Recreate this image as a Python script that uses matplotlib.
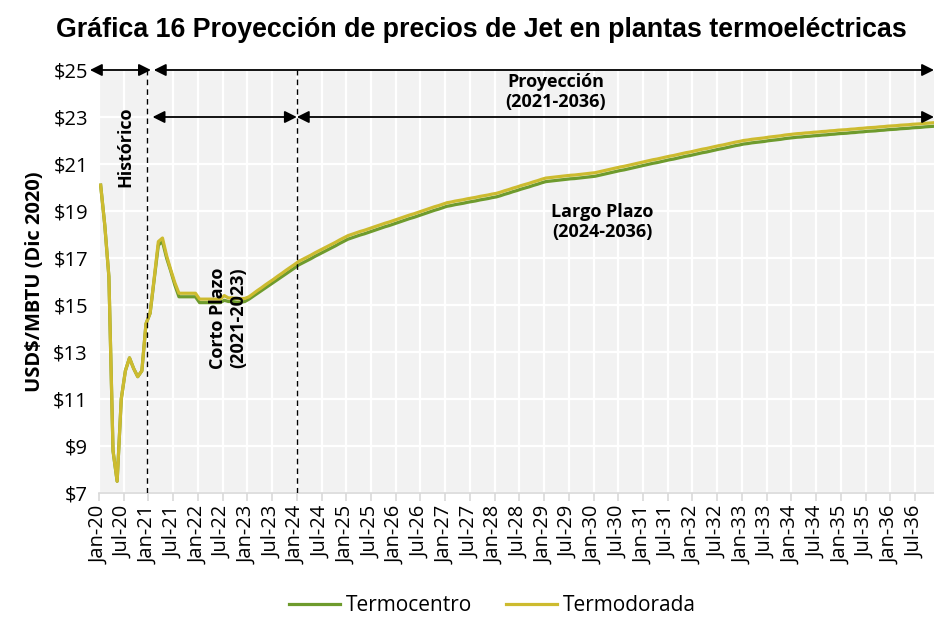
import matplotlib
matplotlib.use("Agg")
import matplotlib.pyplot as plt
import numpy as np

# ---------------- data (monthly, Jan-20 .. Dec-36) ----------------
termocentro = [
    # 2020
    20.10, 18.40, 16.20, 8.80, 7.50, 11.00, 12.20, 12.75, 12.30, 11.95, 12.20, 14.20,
    # 2021
    14.65, 16.10, 17.55, 17.70, 17.00, 16.45, 15.85, 15.35, 15.35, 15.35, 15.35, 15.35,
    # 2022
    15.10, 15.10, 15.10, 15.10, 15.10, 15.10, 15.20, 15.15, 15.15, 15.12, 15.12, 15.15,
    # 2023
    15.25, 15.37, 15.49, 15.61, 15.73, 15.85, 15.97, 16.09, 16.21, 16.33, 16.45, 16.57,
    # 2024
    16.70, 16.79, 16.88, 16.97, 17.07, 17.16, 17.25, 17.34, 17.43, 17.52, 17.62, 17.71,
    # 2025
    17.80, 17.86, 17.92, 17.98, 18.03, 18.09, 18.15, 18.21, 18.27, 18.33, 18.38, 18.44,
    # 2026
    18.50, 18.56, 18.62, 18.68, 18.73, 18.79, 18.85, 18.91, 18.97, 19.03, 19.08, 19.14,
    # 2027
    19.20, 19.23, 19.27, 19.30, 19.33, 19.37, 19.40, 19.43, 19.47, 19.50, 19.53, 19.57,
    # 2028
    19.60, 19.65, 19.71, 19.76, 19.82, 19.87, 19.93, 19.98, 20.03, 20.09, 20.14, 20.20,
    # 2029
    20.25, 20.27, 20.29, 20.31, 20.33, 20.35, 20.37, 20.38, 20.40, 20.42, 20.44, 20.46,
    # 2030
    20.48, 20.52, 20.56, 20.60, 20.64, 20.68, 20.72, 20.75, 20.79, 20.83, 20.87, 20.91,
    # 2031
    20.95, 20.99, 21.03, 21.06, 21.10, 21.14, 21.18, 21.21, 21.25, 21.29, 21.33, 21.36,
    # 2032
    21.40, 21.44, 21.48, 21.51, 21.55, 21.59, 21.63, 21.66, 21.70, 21.74, 21.78, 21.81,
    # 2033
    21.85, 21.87, 21.90, 21.92, 21.94, 21.96, 21.99, 22.01, 22.03, 22.05, 22.08, 22.10,
    # 2034
    22.12, 22.14, 22.15, 22.17, 22.18, 22.20, 22.21, 22.23, 22.24, 22.26, 22.27, 22.29,
    # 2035
    22.30, 22.31, 22.33, 22.34, 22.36, 22.37, 22.39, 22.40, 22.41, 22.43, 22.44, 22.46,
    # 2036
    22.47, 22.48, 22.50, 22.51, 22.52, 22.54, 22.55, 22.56, 22.58, 22.59, 22.60, 22.62,
]

termodorada = [
    # 2020
    20.10, 18.40, 16.20, 8.80, 7.50, 11.00, 12.20, 12.75, 12.30, 11.95, 12.20, 14.20,
    # 2021
    14.65, 16.15, 17.70, 17.85, 17.10, 16.50, 15.95, 15.50, 15.50, 15.50, 15.50, 15.50,
    # 2022
    15.25, 15.25, 15.25, 15.25, 15.25, 15.25, 15.40, 15.30, 15.30, 15.28, 15.26, 15.28,
    # 2023
    15.35, 15.48, 15.61, 15.73, 15.86, 15.98, 16.10, 16.23, 16.35, 16.48, 16.60, 16.72,
    # 2024
    16.85, 16.94, 17.03, 17.12, 17.22, 17.31, 17.40, 17.49, 17.58, 17.67, 17.77, 17.86,
    # 2025
    17.95, 18.01, 18.07, 18.13, 18.18, 18.24, 18.30, 18.36, 18.42, 18.48, 18.53, 18.59,
    # 2026
    18.65, 18.71, 18.77, 18.83, 18.88, 18.94, 19.00, 19.06, 19.12, 19.18, 19.23, 19.29,
    # 2027
    19.35, 19.38, 19.42, 19.45, 19.48, 19.52, 19.55, 19.58, 19.62, 19.65, 19.68, 19.72,
    # 2028
    19.75, 19.80, 19.86, 19.91, 19.97, 20.02, 20.08, 20.13, 20.18, 20.24, 20.29, 20.35,
    # 2029
    20.40, 20.42, 20.44, 20.46, 20.48, 20.50, 20.52, 20.53, 20.55, 20.57, 20.59, 20.61,
    # 2030
    20.63, 20.67, 20.71, 20.75, 20.79, 20.83, 20.87, 20.90, 20.94, 20.98, 21.02, 21.06,
    # 2031
    21.10, 21.14, 21.18, 21.21, 21.25, 21.29, 21.33, 21.36, 21.40, 21.44, 21.48, 21.51,
    # 2032
    21.55, 21.59, 21.63, 21.66, 21.70, 21.74, 21.78, 21.81, 21.85, 21.89, 21.93, 21.96,
    # 2033
    22.00, 22.02, 22.05, 22.07, 22.09, 22.11, 22.14, 22.16, 22.18, 22.20, 22.23, 22.25,
    # 2034
    22.27, 22.29, 22.30, 22.32, 22.33, 22.35, 22.36, 22.38, 22.39, 22.41, 22.42, 22.44,
    # 2035
    22.45, 22.46, 22.48, 22.49, 22.51, 22.52, 22.54, 22.55, 22.56, 22.58, 22.59, 22.61,
    # 2036
    22.62, 22.63, 22.65, 22.66, 22.67, 22.69, 22.70, 22.71, 22.73, 22.74, 22.75, 22.77,
]

years = list(range(20, 37))
tick_labels = [f"{m}-{y}" for y in years for m in ("Jan", "Jul")]
y_ticks = [7, 9, 11, 13, 15, 17, 19, 21, 23, 25]
y_tick_labels = [f"${v}" for v in y_ticks]

title = "Gráfica 16 Proyección de precios de Jet en plantas termoeléctricas"
ylabel = "USD$/MBTU (Dic 2020)"

# ---------------- figure ----------------
plt.rcParams["font.family"] = ["Open Sans", "DejaVu Sans"]

fig = plt.figure(figsize=(9.34, 6.17), dpi=100)
ax = fig.add_axes([99 / 934, 1 - 493 / 617, 835 / 934, 423 / 617])
ax.set_facecolor("#F2F2F2")

months = np.arange(len(termocentro)) + 0.4
green = "#6E9B2D"
yellow = "#CDBB2F"
ax.plot(months, termocentro, color=green, lw=2.3, label="Termocentro", zorder=3)
ax.plot(months, termodorada, color=yellow, lw=2.3, label="Termodorada", zorder=4)

ax.set_xlim(0, 202.6)
ax.set_ylim(7, 25)

ax.set_xticks(np.arange(len(tick_labels)) * 6)
ax.set_xticklabels(tick_labels, rotation=90, fontsize=14.5)
ax.set_yticks(y_ticks)
ax.set_yticklabels(y_tick_labels, fontsize=14.5)

ax.grid(True, color="white", lw=1.6, zorder=1)
ax.set_axisbelow(True)
for s in ("top", "right", "left"):
    ax.spines[s].set_visible(False)
ax.spines["bottom"].set_color("#D9D9D9")
ax.spines["bottom"].set_linewidth(1.2)
ax.tick_params(axis="x", colors="#D9D9D9", length=6, width=1.2, labelcolor="black", pad=3)
ax.tick_params(axis="y", length=0, pad=8, labelcolor="black")

ax.set_ylabel(ylabel, fontsize=14.5, fontweight="bold", labelpad=6)
fig.text(0.515, 0.951, title, ha="center", va="center", fontsize=19.3,
         fontweight="bold", family="Liberation Sans")

# dashed separators
for xv in (11.6, 48.0):
    ax.axvline(xv, color="black", ls=(0, (4, 3)), lw=1.0, zorder=5)

# arrows
def darrow(x0, x1, yv):
    ax.annotate("", xy=(x1, yv), xytext=(x0, yv), xycoords="data",
                arrowprops=dict(arrowstyle="<|-|>", color="black", lw=1.3,
                                mutation_scale=18, shrinkA=0, shrinkB=0),
                annotation_clip=False, zorder=6)

darrow(-2.2, 12.6, 25)
darrow(13.3, 202.6, 25)
darrow(13.0, 48.0, 23)
darrow(48.0, 202.6, 23)

tkw = dict(fontsize=13, fontweight="bold", ha="center", va="center", zorder=7)
ax.text(6.3, 21.75, "Histórico", rotation=90, **tkw)
ax.text(110.8, 24.05, "Proyección\n(2021-2036)", linespacing=1.15, **tkw)
ax.text(31.3, 14.45, "Corto Plazo\n(2021-2023)", rotation=90, linespacing=1.15, **tkw)
ax.text(122.2, 18.53, "Largo Plazo\n(2024-2036)", linespacing=1.15, **tkw)

fig.legend(loc="center", bbox_to_anchor=(0.527, 0.018), ncol=2, frameon=False,
           fontsize=15, handlelength=2.45, columnspacing=1.6, handletextpad=0.3)

fig.savefig("out.png", dpi=100)
